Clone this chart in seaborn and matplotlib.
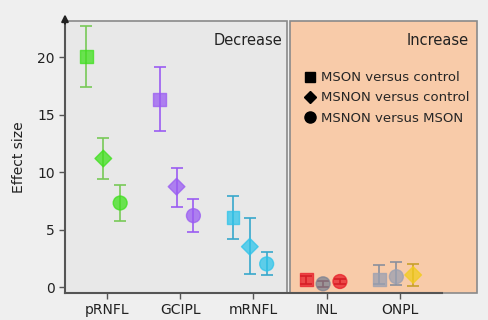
import numpy as np
import pandas as pd
import seaborn as sns
import matplotlib.pyplot as plt
from matplotlib.patches import Rectangle
from matplotlib.lines import Line2D

sns.set_theme(style="white")
plt.rcParams["font.family"] = ["DejaVu Sans"]

# ---- data ----
layers = ["pRNFL", "GCIPL", "mRNFL", "INL", "ONPL"]
comparisons = ["MSON versus control", "MSNON versus control", "MSNON versus MSON"]

effect = {
    "pRNFL": [20.05, 11.2, 7.33],
    "GCIPL": [16.35, 8.75, 6.23],
    "mRNFL": [6.07, 3.53, 2.03],
    "INL": [0.64, 0.30, 0.50],
    "ONPL": [0.70, 0.92, 1.07],
}
err_low = {
    "pRNFL": [17.45, 9.4, 5.77],
    "GCIPL": [13.55, 7.0, 4.78],
    "mRNFL": [4.17, 1.16, 1.07],
    "INL": [0.30, 0.05, 0.25],
    "ONPL": [0.30, 0.20, 0.10],
}
err_high = {
    "pRNFL": [22.75, 13.0, 8.9],
    "GCIPL": [19.2, 10.4, 7.65],
    "mRNFL": [7.97, 6.0, 3.05],
    "INL": [1.00, 0.55, 0.75],
    "ONPL": [1.94, 2.23, 2.03],
}
point_colors = {
    "pRNFL": ["#3ee01c", "#3ee01c", "#3ee01c"],
    "GCIPL": ["#9a5cf2", "#9a5cf2", "#9a5cf2"],
    "mRNFL": ["#2ec4ea", "#2ec4ea", "#2ec4ea"],
    "INL": ["#e81e28", "#7c8292", "#e81e28"],
    "ONPL": ["#9aa0b2", "#9aa0b2", "#f2cc1e"],
}
bar_colors = {
    "pRNFL": "#78c957",
    "GCIPL": "#9a5cf2",
    "mRNFL": "#38a8cc",
    "INL": "#a02020",
    "ONPL": "#8a8f9c",
}
point_shapes = {
    "pRNFL": ["s", "D", "o"],
    "GCIPL": ["s", "D", "o"],
    "mRNFL": ["s", "D", "o"],
    "INL": ["s", "o", "o"],
    "ONPL": ["s", "o", "D"],
}
shape_sizes = {"s": 85, "D": 72, "o": 100}
offsets = [-0.28, -0.05, 0.18]

rows = []
for i, layer in enumerate(layers):
    for j in range(3):
        shape = point_shapes[layer][j]
        rows.append({
            "key": f"{layer}_{j}",
            "x": i + offsets[j],
            "effect": effect[layer][j],
            "lo": err_low[layer][j],
            "hi": err_high[layer][j],
            "color": point_colors[layer][j],
            "bar": bar_colors[layer] if not (layer == "ONPL" and j == 2) else "#c8a02c",
            "shape": shape,
            "size": shape_sizes[shape],
        })
df = pd.DataFrame(rows)

fig = plt.figure(figsize=(4.88, 3.2), dpi=100)
fig.patch.set_facecolor("#efefef")
ax = fig.add_axes([65 / 488, 27 / 320, 413 / 488, 272 / 320])
ax.set_facecolor("none")

xmin, xmax = -0.573, 5.065
split_l, split_r = 2.46, 2.50
ax.set_xlim(xmin, xmax)
ax.set_ylim(-0.5, 23.16)

# panels
ax.add_patch(Rectangle((xmin, 0), split_l - xmin, 1, transform=ax.get_xaxis_transform(),
                       facecolor="#e8e8e8", edgecolor="#8a8a8a", lw=1.2, zorder=0, clip_on=False))
ax.add_patch(Rectangle((split_r, 0), xmax - split_r - 0.01, 1, transform=ax.get_xaxis_transform(),
                       facecolor="#f8cba9", edgecolor="#8a8a8a", lw=1.2, zorder=0, clip_on=False))
ax.text(split_l - 0.06, 0.955, "Decrease", transform=ax.get_xaxis_transform(),
        ha="right", va="top", fontsize=10.5, color="#222222")
ax.text(xmax - 0.12, 0.955, "Increase", transform=ax.get_xaxis_transform(),
        ha="right", va="top", fontsize=10.5, color="#222222")

# error bars
for _, r in df.iterrows():
    ax.errorbar(r["x"], r["effect"],
                yerr=[[r["effect"] - r["lo"]], [r["hi"] - r["effect"]]],
                fmt="none", ecolor=r["bar"], elinewidth=1.2, capsize=4, capthick=1.2, zorder=2)

sns.scatterplot(data=df, x="x", y="effect", hue="key", style="key", size="key",
                palette=dict(zip(df["key"], df["color"])),
                markers=dict(zip(df["key"], df["shape"])),
                sizes=dict(zip(df["key"], df["size"])),
                alpha=0.75, linewidth=1.0, edgecolor=df["color"],
                legend=False, ax=ax, zorder=3)

ax.set_xticks(range(len(layers)))
ax.set_xticklabels(layers, fontsize=10, color="#222222")
ax.set_yticks([0, 5, 10, 15, 20])
ax.set_yticklabels(["0", "5", "10", "15", "20"], fontsize=10, color="#222222")
ax.set_xlabel("")
ax.set_ylabel("Effect size", fontsize=10, color="#222222", labelpad=8)
ax.tick_params(axis="both", direction="out", length=4, width=1, color="#555555", bottom=True, left=True)

for side in ["top", "right"]:
    ax.spines[side].set_visible(False)
ax.spines["left"].set_color("#555555")
ax.spines["left"].set_linewidth(1.5)
ax.spines["bottom"].set_color("#555555")
ax.spines["bottom"].set_linewidth(1.5)
ax.spines["bottom"].set_bounds(xmin, 4.57)
ax.annotate("", xy=(xmin, 1.035), xytext=(xmin, 0.98), xycoords=ax.get_xaxis_transform(),
            arrowprops=dict(arrowstyle="-|>", color="#222222", lw=1.5, mutation_scale=10),
            annotation_clip=False)

handles = [Line2D([], [], marker=m, ls="none", color="black", markersize=ms)
           for m, ms in zip(["s", "D", "o"], [7, 6.5, 8])]
ax.legend(handles, comparisons, loc="upper left", bbox_to_anchor=(0.565, 0.835),
          frameon=False, fontsize=9.5, handletextpad=0.3, labelspacing=0.55,
          handlelength=1.0, borderaxespad=0)

fig.savefig("out.png", dpi=100)
